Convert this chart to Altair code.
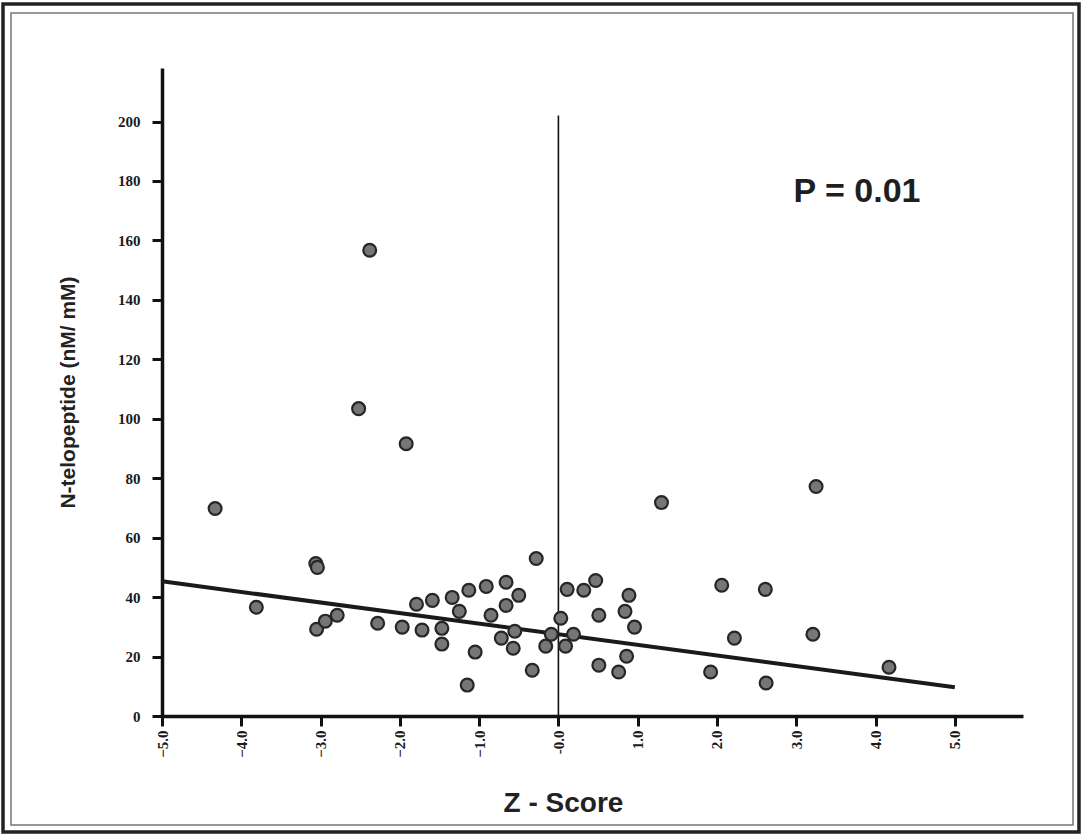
import altair as alt
import pandas as pd

# Scatter data: Z-score vs N-telopeptide (nM/ mM)
z_score = [-4.33, -3.81, -3.06, -3.04, -3.05, -2.94, -2.79, -2.52, -2.38, -2.28,
           -1.92, -1.97, -1.79, -1.72, -1.59, -1.47, -1.47, -1.34, -1.25, -1.15,
           -1.13, -1.05, -0.91, -0.85, -0.72, -0.66, -0.66, -0.57, -0.55, -0.50,
           -0.33, -0.28, -0.16, -0.09, 0.03, 0.09, 0.19, 0.11, 0.32, 0.47,
           0.51, 0.51, 0.76, 0.84, 0.86, 0.89, 0.96, 1.30, 1.92, 2.06,
           2.22, 2.61, 2.62, 3.21, 3.25, 4.17]
ntx = [69.8, 36.6, 51.3, 50.0, 29.2, 31.9, 33.9, 103.4, 156.7, 31.2,
       91.6, 29.9, 37.6, 28.9, 38.9, 29.5, 24.2, 39.9, 35.2, 10.4,
       42.3, 21.5, 43.6, 33.9, 26.2, 45.0, 37.2, 22.8, 28.5, 40.6,
       15.4, 53.0, 23.5, 27.5, 32.9, 23.5, 27.5, 42.6, 42.3, 45.6,
       33.9, 17.1, 14.8, 35.2, 20.1, 40.6, 29.9, 71.8, 14.8, 44.0,
       26.2, 42.6, 11.1, 27.5, 77.2, 16.4]

# Regression line end points
fit_x = [-5.0, 5.0]
fit_y = [45.3, 9.7]

# Vertical reference line at Z = 0
ref_x = [0.0]
ref_y_top = [202.0]

x_ticks = [-5, -4, -3, -2, -1, 0, 1, 2, 3, 4, 5]
y_ticks = [0, 20, 40, 60, 80, 100, 120, 140, 160, 180, 200]

X_DOMAIN = [-5, 5.86]
Y_DOMAIN = [0, 218]
W, H = 861, 648
TICK = 10

pts = pd.DataFrame({"z": z_score, "ntx": ntx})
fit = pd.DataFrame({"z": fit_x, "ntx": fit_y})
ref = pd.DataFrame({"z": ref_x, "y0": [0.0], "y1": ref_y_top})

xscale = alt.Scale(domain=X_DOMAIN, nice=False, zero=False)
yscale = alt.Scale(domain=Y_DOMAIN, nice=False)

x_axis = alt.Axis(
    values=x_ticks,
    labelExpr="datum.value == 0 ? '-0.0' : format(datum.value, '.1f')",
    labelAngle=270, labelAlign="right", labelBaseline="middle",
    labelFont="Liberation Serif", labelFontWeight="bold", labelFontSize=15,
    labelColor="#1a1a1a", labelPadding=4,
    tickSize=TICK, tickWidth=3, tickColor="#111111",
    domainWidth=3.5, domainColor="#111111",
    grid=False, title="Z - Score",
    titleFont="Liberation Sans", titleFontWeight="bold", titleFontSize=28,
    titleColor="#222222", titleX=401, titleY=87, titleBaseline="middle",
    titleAlign="center",
)
y_axis = alt.Axis(
    values=y_ticks, format="d",
    labelFont="Liberation Serif", labelFontWeight="bold", labelFontSize=15,
    labelColor="#1a1a1a", labelPadding=12,
    tickSize=TICK, tickWidth=3, tickColor="#111111",
    domainWidth=3.5, domainColor="#111111",
    grid=False, title="N-telopeptide (nM/ mM)",
    titleFont="Liberation Sans", titleFontWeight="bold", titleFontSize=21,
    titleColor="#222222", titleAngle=270, titleX=-94, titleY=324,
    titleAlign="center", titleBaseline="middle",
)

base_pts = alt.Chart(pts).mark_circle(
    size=165, fill="#767676", stroke="#262626", strokeWidth=2.2, opacity=1
).encode(
    x=alt.X("z:Q", scale=xscale, axis=x_axis),
    y=alt.Y("ntx:Q", scale=yscale, axis=y_axis),
)

fit_line = alt.Chart(fit).mark_line(color="#1a1a1a", strokeWidth=4).encode(
    x=alt.X("z:Q", scale=xscale, axis=x_axis),
    y=alt.Y("ntx:Q", scale=yscale, axis=y_axis),
)

ref_rule = alt.Chart(ref).mark_rule(color="#111111", strokeWidth=1.6).encode(
    x=alt.X("z:Q", scale=xscale, axis=x_axis),
    y=alt.Y("y0:Q", scale=yscale, axis=y_axis),
    y2="y1:Q",
)

p_text = alt.Chart(pd.DataFrame({"t": ["P = 0.01"]})).mark_text(
    font="Liberation Sans", fontWeight="bold", fontSize=34, color="#1e1e1e",
    align="center", baseline="middle",
).encode(text="t:N", x=alt.value(695), y=alt.value(124))

# decorative double frame around the whole figure
frame_outer = alt.Chart(pd.DataFrame({"k": [0]})).mark_rect(
    fill="white", fillOpacity=0, stroke="#222222", strokeWidth=3.5
).encode(x=alt.value(3 - 162), x2=alt.value(1079 - 162),
         y=alt.value(4 - 68), y2=alt.value(832 - 68))
frame_inner = alt.Chart(pd.DataFrame({"k": [0]})).mark_rect(
    fill="white", fillOpacity=0, stroke="#777777", strokeWidth=1.5
).encode(x=alt.value(11 - 162), x2=alt.value(1073 - 162),
         y=alt.value(13 - 68), y2=alt.value(825 - 68))

chart = alt.layer(
    frame_outer, frame_inner, ref_rule, fit_line, base_pts, p_text
).properties(
    width=W, height=H,
    padding={"left": 1, "top": 2, "right": 2, "bottom": 2},
).configure(background="white").configure_view(strokeWidth=0)

chart.save("out.html", embed_options={"renderer": "svg", "actions": False})
